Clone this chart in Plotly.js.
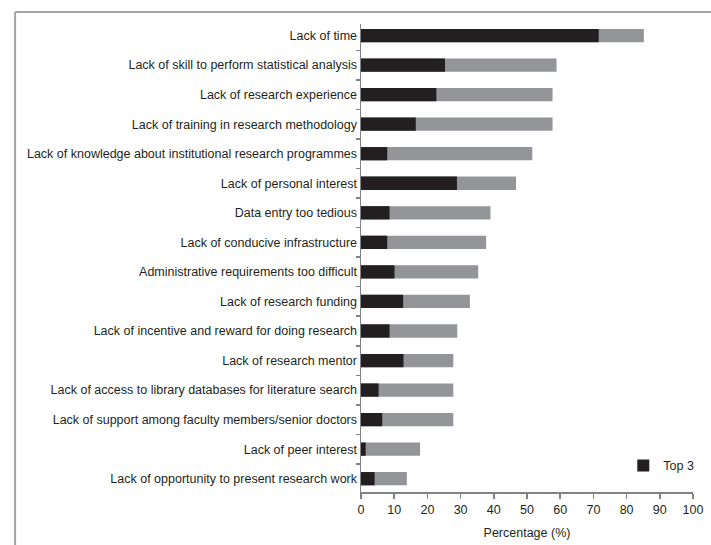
<!DOCTYPE html>
<html>
<head>
<meta charset="utf-8">
<script src="https://cdn.plot.ly/plotly-3.0.1.min.js"></script>
<style>
  html, body { margin: 0; padding: 0; background: #ffffff; }
  #chart { width: 711px; height: 545px; }
</style>
</head>
<body>
<div id="chart"></div>
<script>
// Barrier categories (top to bottom)
const categories = [
  "Lack of time",
  "Lack of skill to perform statistical analysis",
  "Lack of research experience",
  "Lack of training in research methodology",
  "Lack of knowledge about institutional research programmes",
  "Lack of personal interest",
  "Data entry too tedious",
  "Lack of conducive infrastructure",
  "Administrative requirements too difficult",
  "Lack of research funding",
  "Lack of incentive and reward for doing research",
  "Lack of research mentor",
  "Lack of access to library databases for literature search",
  "Lack of support among faculty members/senior doctors",
  "Lack of peer interest",
  "Lack of opportunity to present research work"
];

// Percentage citing the barrier overall (grey bar length)
const totalPct = [85.2, 58.9, 57.7, 57.7, 51.6, 46.7, 39.0, 37.7, 35.3, 32.8, 29.0, 27.8, 27.8, 27.8, 17.8, 13.8];

// Percentage ranking the barrier in their top 3 (black bar)
const top3Pct = [71.6, 25.3, 22.7, 16.5, 7.9, 28.9, 8.6, 7.9, 10.1, 12.7, 8.6, 12.8, 5.3, 6.4, 1.4, 4.1];

const xTicks = [0, 10, 20, 30, 40, 50, 60, 70, 80, 90, 100];

const FONT = '"Liberation Sans", Arial, "DejaVu Sans", sans-serif';
const TEXT = '#231f20';
const AXIS = '#808285';
const FRAME = '#a3a3a3';

const traces = [
  {
    type: 'bar',
    orientation: 'h',
    name: 'All',
    y: categories,
    x: totalPct,
    width: 0.45,
    marker: { color: '#939598', line: { width: 0 }, opacity: 1 },
    showlegend: false,
    hoverinfo: 'x+y'
  },
  {
    type: 'bar',
    orientation: 'h',
    name: 'Top 3',
    y: categories,
    x: top3Pct,
    width: 0.45,
    marker: { color: '#231f20', line: { width: 0 }, opacity: 1 },
    showlegend: true,
    hoverinfo: 'x+y'
  }
];

const layout = {
  width: 711,
  height: 545,
  margin: { l: 361, r: 16, t: 24, b: 53, pad: 0 },
  paper_bgcolor: '#ffffff',
  plot_bgcolor: '#ffffff',
  barmode: 'overlay',
  font: { family: FONT, size: 12.5, color: TEXT },
  showlegend: true,
  legend: {
    x: 0.79, xanchor: 'left',
    y: 0.0556, yanchor: 'middle',
    bgcolor: 'rgba(0,0,0,0)',
    borderwidth: 0,
    font: { family: FONT, size: 12.5, color: TEXT },
    itemwidth: 30,
    traceorder: 'normal'
  },
  xaxis: {
    range: [0, 100],
    tickvals: xTicks,
    ticktext: xTicks.map(String),
    ticks: 'outside',
    ticklen: 5,
    tickwidth: 1.5,
    tickcolor: AXIS,
    showline: true,
    linecolor: AXIS,
    linewidth: 1.5,
    showgrid: false,
    zeroline: false,
    automargin: false,
    tickfont: { family: FONT, size: 12.5, color: TEXT },
    title: { text: 'Percentage (%)', font: { family: FONT, size: 12.5, color: TEXT }, standoff: 12 },
    fixedrange: true
  },
  yaxis: {
    type: 'category',
    categoryorder: 'array',
    categoryarray: categories,
    range: [15.45, -0.39],
    ticks: 'outside',
    tickson: 'boundaries',
    ticklen: 4,
    tickwidth: 1.5,
    tickcolor: AXIS,
    showline: true,
    linecolor: AXIS,
    linewidth: 1.5,
    showgrid: false,
    zeroline: false,
    tickfont: { family: FONT, size: 12.5, color: TEXT },
    automargin: false,
    fixedrange: true
  },
  shapes: [
    {
      type: 'line', xref: 'paper', yref: 'paper',
      x0: -1.0419, x1: -1.0419, y0: -0.2, y1: 1.0256,
      line: { color: FRAME, width: 2 }
    },
    {
      type: 'line', xref: 'paper', yref: 'paper',
      x0: -1.0419, x1: 1.2, y0: 1.0256, y1: 1.0256,
      line: { color: FRAME, width: 2 }
    }
  ]
};

Plotly.newPlot('chart', traces, layout, { displayModeBar: false, staticPlot: true });
</script>
</body>
</html>
